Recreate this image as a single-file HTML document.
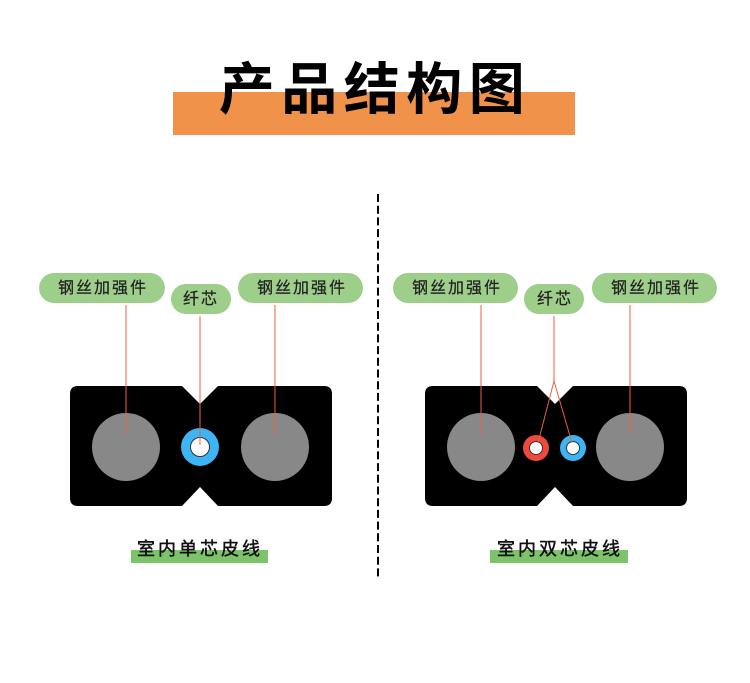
<!DOCTYPE html>
<html><head><meta charset="utf-8">
<style>
html,body{margin:0;padding:0;background:#fff;}
body{width:750px;height:683px;overflow:hidden;}
svg{display:block;}
text{font-family:"Liberation Sans","Noto Sans CJK SC",sans-serif;}
</style></head>
<body>
<svg width="750" height="683" viewBox="0 0 750 683" xmlns="http://www.w3.org/2000/svg">
<rect x="173" y="92" width="402" height="43" fill="#f0924a"/>
<text x="375" y="109" font-size="56" font-weight="bold" fill="#000" text-anchor="middle" letter-spacing="6.5" style="font-family:'Noto Sans CJK SC',sans-serif">产品结构图</text>

<line x1="378" y1="194" x2="378" y2="577" stroke="#000" stroke-width="2" stroke-dasharray="8,3.7"/>

<!-- Left diagram -->
<path d="M78 386 H182 L200 404 L218 386 H324 Q332 386 332 394 V498 Q332 506 324 506 H218 L200 487 L182 506 H78 Q70 506 70 498 V394 Q70 386 78 386 Z" fill="#000"/>
<circle cx="126" cy="447" r="34" fill="#888"/>
<circle cx="275" cy="447" r="34" fill="#888"/>
<circle cx="200" cy="447" r="19" fill="#3db4f4"/>
<circle cx="200" cy="447" r="9.5" fill="#fff" stroke="#333" stroke-width="1"/>

<rect x="39" y="273" width="126" height="30" rx="15" fill="#9dcf8a"/>
<rect x="171" y="284" width="60" height="30" rx="15" fill="#9dcf8a"/>
<rect x="238" y="273" width="125" height="30" rx="15" fill="#9dcf8a"/>
<text x="103" y="293" font-size="16" fill="#222" stroke="#222" stroke-width="0.25" text-anchor="middle" letter-spacing="2">钢丝加强件</text>
<text x="201" y="304" font-size="16" fill="#222" stroke="#222" stroke-width="0.25" text-anchor="middle" letter-spacing="2">纤芯</text>
<text x="302" y="293" font-size="16" fill="#222" stroke="#222" stroke-width="0.25" text-anchor="middle" letter-spacing="2">钢丝加强件</text>

<line x1="126" y1="305" x2="126" y2="434" stroke="#e8643c" stroke-width="1"/>
<line x1="200" y1="316" x2="200" y2="445" stroke="#e8643c" stroke-width="1"/>
<line x1="275" y1="305" x2="275" y2="434" stroke="#e8643c" stroke-width="1"/>

<rect x="131" y="550" width="137" height="13" fill="#7dc36a"/>
<text x="200" y="555" font-size="18" fill="#111" stroke="#111" stroke-width="0.45" text-anchor="middle" letter-spacing="3">室内单芯皮线</text>

<!-- Right diagram -->
<path d="M433 386 H537 L555 404 L573 386 H679 Q687 386 687 394 V498 Q687 506 679 506 H573 L555 487 L537 506 H433 Q425 506 425 498 V394 Q425 386 433 386 Z" fill="#000"/>
<circle cx="481" cy="447" r="34" fill="#888"/>
<circle cx="630" cy="447" r="34" fill="#888"/>
<circle cx="536" cy="448" r="13" fill="#f0483c"/>
<circle cx="536" cy="448" r="6.5" fill="#fff" stroke="#333" stroke-width="1"/>
<circle cx="573" cy="448" r="13" fill="#3db4f4"/>
<circle cx="573" cy="448" r="6.5" fill="#fff" stroke="#333" stroke-width="1"/>

<rect x="393" y="273" width="125" height="30" rx="15" fill="#9dcf8a"/>
<rect x="524" y="284" width="60" height="30" rx="15" fill="#9dcf8a"/>
<rect x="592" y="273" width="125" height="30" rx="15" fill="#9dcf8a"/>
<text x="457" y="293" font-size="16" fill="#222" stroke="#222" stroke-width="0.25" text-anchor="middle" letter-spacing="2">钢丝加强件</text>
<text x="555" y="304" font-size="16" fill="#222" stroke="#222" stroke-width="0.25" text-anchor="middle" letter-spacing="2">纤芯</text>
<text x="656" y="293" font-size="16" fill="#222" stroke="#222" stroke-width="0.25" text-anchor="middle" letter-spacing="2">钢丝加强件</text>

<line x1="481" y1="305" x2="481" y2="434" stroke="#e8643c" stroke-width="1"/>
<line x1="630" y1="305" x2="630" y2="434" stroke="#e8643c" stroke-width="1"/>
<polyline points="554,316 554,381 538,443" fill="none" stroke="#e8643c" stroke-width="1"/>
<polyline points="554,381 572,443" fill="none" stroke="#e8643c" stroke-width="1"/>

<rect x="490" y="550" width="138" height="13" fill="#7dc36a"/>
<text x="560" y="555" font-size="18" fill="#111" stroke="#111" stroke-width="0.45" text-anchor="middle" letter-spacing="3">室内双芯皮线</text>
</svg>
</body></html>
